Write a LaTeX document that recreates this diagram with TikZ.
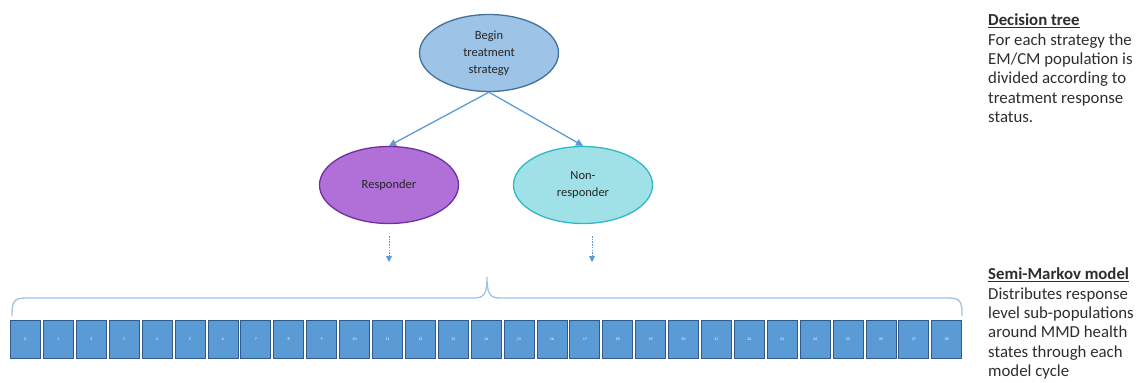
\documentclass[tikz,border=0pt]{standalone}
\usepackage{fontspec}
\setmainfont{Carlito}
\usetikzlibrary{arrows.meta,shapes.geometric}
\definecolor{topfill}{RGB}{157,195,230}
\definecolor{topline}{RGB}{65,113,156}
\definecolor{respfill}{RGB}{176,112,216}
\definecolor{respline}{RGB}{112,48,160}
\definecolor{nonfill}{RGB}{160,225,232}
\definecolor{nonline}{RGB}{46,184,200}
\definecolor{arrowblue}{RGB}{91,155,213}
\definecolor{bracecol}{RGB}{157,195,230}
\definecolor{statefill}{RGB}{91,155,213}
\definecolor{stateline}{RGB}{50,90,140}
\definecolor{txt}{RGB}{45,45,45}
\tikzset{
  treenode/.style={ellipse, minimum width=139pt, minimum height=77pt, line width=1.3pt,
    align=center, text=black!85, font=\fontsize{12.5}{17}\selectfont, inner sep=0pt},
  treearrow/.style={-{Triangle[length=7pt,width=7pt]}, draw=arrowblue, line width=1.3pt},
  dotarrow/.style={-{Triangle[length=6pt,width=6pt]}, draw=arrowblue, line width=0.9pt, dash pattern=on 1.5pt off 1.2pt},
  statebox/.style={draw=stateline, fill=statefill, line width=0.8pt, minimum width=30pt,
    minimum height=38pt, inner sep=0pt, text=white, font=\fontsize{4}{4}\selectfont},
  notetext/.style={anchor=north west, align=left, text=txt, inner sep=0pt,
    font=\fontsize{16.8}{19.3}\selectfont}
}
\begin{document}
\begin{tikzpicture}[x=1pt,y=-1pt]
\useasboundingbox (0,0) rectangle (1141,383);
% decision tree
\node[treenode, fill=topfill, draw=topline] (begin) at (489,53) {Begin\\treatment\\strategy};
\node[treenode, fill=respfill, draw=respline] (resp) at (389,185) {Responder};
\node[treenode, fill=nonfill, draw=nonline] (non) at (583,185) {Non-\\responder};
\draw[treearrow] (begin.south) -- (resp.north);
\draw[treearrow] (begin.south) -- (non.north);
% dotted links towards the Markov states
\coordinate (rstart) at (389,236);
\coordinate (rend) at (389,262);
\coordinate (nstart) at (592,236);
\coordinate (nend) at (592,262);
\draw[dotarrow] (rstart) -- (rend);
\draw[dotarrow] (nstart) -- (nend);
% brace over the health states
\coordinate (bl) at (12,316);
\coordinate (br) at (962,316);
\coordinate (btip) at (487,277);
\draw[bracecol, line width=1.3pt] (bl) .. controls (12,302) and (13,298) .. (26,298)
  -- (474,298) .. controls (484,298) and (487,294) .. (btip)
  .. controls (487,294) and (490,298) .. (500,298)
  -- (948,298) .. controls (961,298) and (962,302) .. (br);
% semi-Markov health states
\foreach \i in {0,...,28}{
  \node[statebox] (s\i) at ({25.5+\i*32.9},339.5) {\i};
}
% side notes
\node[notetext] (dtnote) at (988,14) {\textbf{\underline{Decision tree}}\\For each strategy the\\EM/CM population is\\divided according to\\treatment response\\status.};
\node[notetext] (smnote) at (988,268) {\textbf{\underline{Semi-Markov model}}\\Distributes response\\level sub-populations\\around MMD health\\states through each\\model cycle};
\end{tikzpicture}
\end{document}
